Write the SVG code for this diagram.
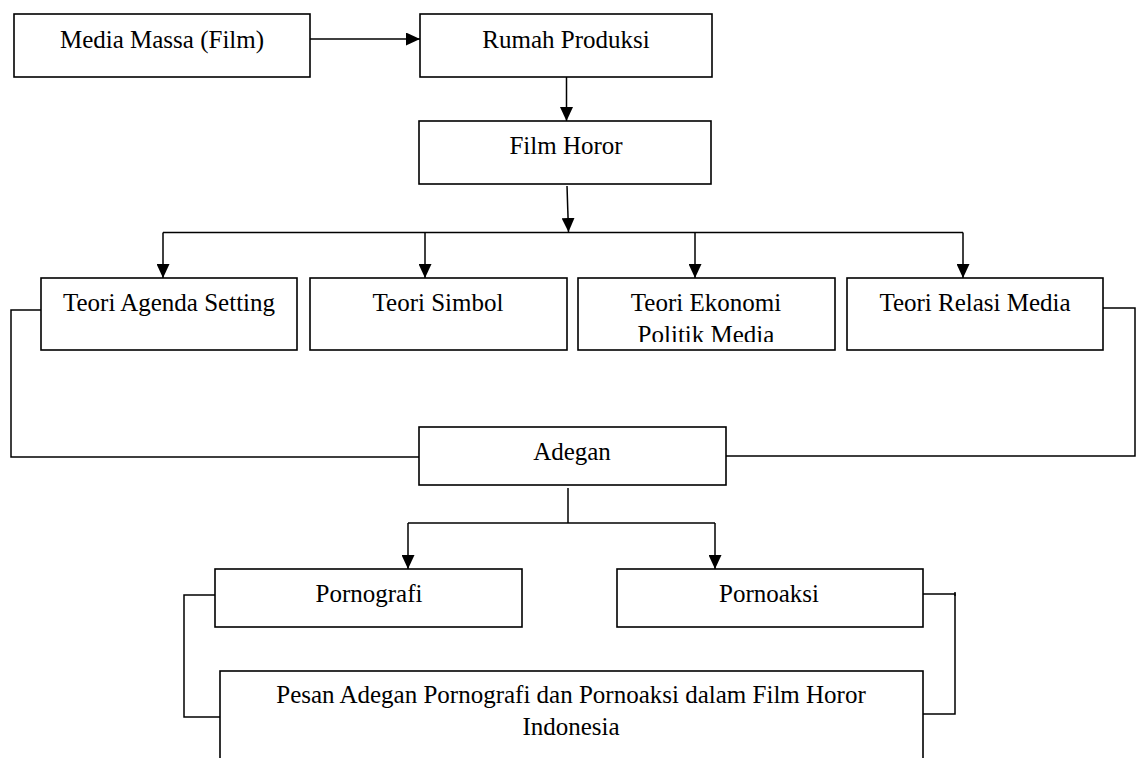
<svg xmlns="http://www.w3.org/2000/svg" width="1139" height="758" viewBox="0 0 1139 758">
<style>
.box{fill:#fff;stroke:#000;stroke-width:1.6}
.t{font-family:"Liberation Serif","Times New Roman",serif;font-size:25px;fill:#000;text-anchor:middle}
.ln{fill:none;stroke:#000;stroke-width:1.5}
</style>
<defs>
<marker id="ah" viewBox="0 0 14 13" markerWidth="14" markerHeight="13" refX="14" refY="6.5" orient="auto" markerUnits="userSpaceOnUse">
<path d="M0,0 L14,6.5 L0,13 z" fill="#000"/>
</marker>
<clipPath id="clipEk"><rect x="578" y="278" width="257" height="64"/></clipPath>
</defs>
<rect width="1139" height="758" fill="#fff"/>
<g id="connectors">
<line class="ln" x1="310" y1="39" x2="420" y2="39" marker-end="url(#ah)"/>
<line class="ln" x1="566.5" y1="77" x2="566.5" y2="121" marker-end="url(#ah)"/>
<line class="ln" x1="567" y1="186" x2="568.5" y2="232" marker-end="url(#ah)"/>
<line class="ln" x1="163" y1="232.5" x2="963" y2="232.5"/>
<line class="ln" x1="163" y1="232.5" x2="163" y2="278" marker-end="url(#ah)"/>
<line class="ln" x1="425" y1="232.5" x2="425" y2="278" marker-end="url(#ah)"/>
<line class="ln" x1="695" y1="232.5" x2="695" y2="278" marker-end="url(#ah)"/>
<line class="ln" x1="963" y1="232.5" x2="963" y2="278" marker-end="url(#ah)"/>
<polyline class="ln" points="41,310 11,310 11,457 419,457"/>
<polyline class="ln" points="1103,308 1135,308 1135,456 726,456"/>
<line class="ln" x1="568" y1="488" x2="568" y2="523"/>
<line class="ln" x1="408" y1="523" x2="715" y2="523"/>
<line class="ln" x1="408" y1="523" x2="408" y2="569" marker-end="url(#ah)"/>
<line class="ln" x1="715" y1="523" x2="715" y2="569" marker-end="url(#ah)"/>
<polyline class="ln" points="215,595 184,595 184,717 220,717"/>
<polyline class="ln" points="923,594 955,594 955,714 923,714"/>
<line class="ln" x1="955" y1="592" x2="955" y2="596"/>
</g>
<g id="n-media"><rect class="box" x="14" y="14" width="296" height="63"/><text class="t" x="162" y="48">Media Massa (Film)</text></g>
<g id="n-rumah"><rect class="box" x="420" y="14" width="292" height="63"/><text class="t" x="566" y="48">Rumah Produksi</text></g>
<g id="n-film"><rect class="box" x="419" y="121" width="292" height="63"/><text class="t" x="566" y="154">Film Horor</text></g>
<g id="n-agenda"><rect class="box" x="41" y="278" width="256" height="72"/><text class="t" x="169" y="311">Teori Agenda Setting</text></g>
<g id="n-simbol"><rect class="box" x="310" y="278" width="257" height="72"/><text class="t" x="438" y="311">Teori Simbol</text></g>
<g id="n-ekonomi"><rect class="box" x="578" y="278" width="257" height="72"/><g clip-path="url(#clipEk)"><text class="t" x="706" y="311">Teori Ekonomi</text><text class="t" x="706" y="343">Politik Media</text></g></g>
<g id="n-relasi"><rect class="box" x="847" y="278" width="256" height="72"/><text class="t" x="975" y="311">Teori Relasi Media</text></g>
<g id="n-adegan"><rect class="box" x="419" y="427" width="307" height="58"/><text class="t" x="572" y="460">Adegan</text></g>
<g id="n-pornografi"><rect class="box" x="215" y="569" width="307" height="58"/><text class="t" x="369" y="602">Pornografi</text></g>
<g id="n-pornoaksi"><rect class="box" x="617" y="569" width="306" height="58"/><text class="t" x="769" y="602">Pornoaksi</text></g>
<g id="n-pesan"><rect class="box" x="220" y="671" width="703" height="100"/><text class="t" x="571" y="703">Pesan Adegan Pornografi dan Pornoaksi dalam Film Horor</text><text class="t" x="571" y="735">Indonesia</text></g>
</svg>
